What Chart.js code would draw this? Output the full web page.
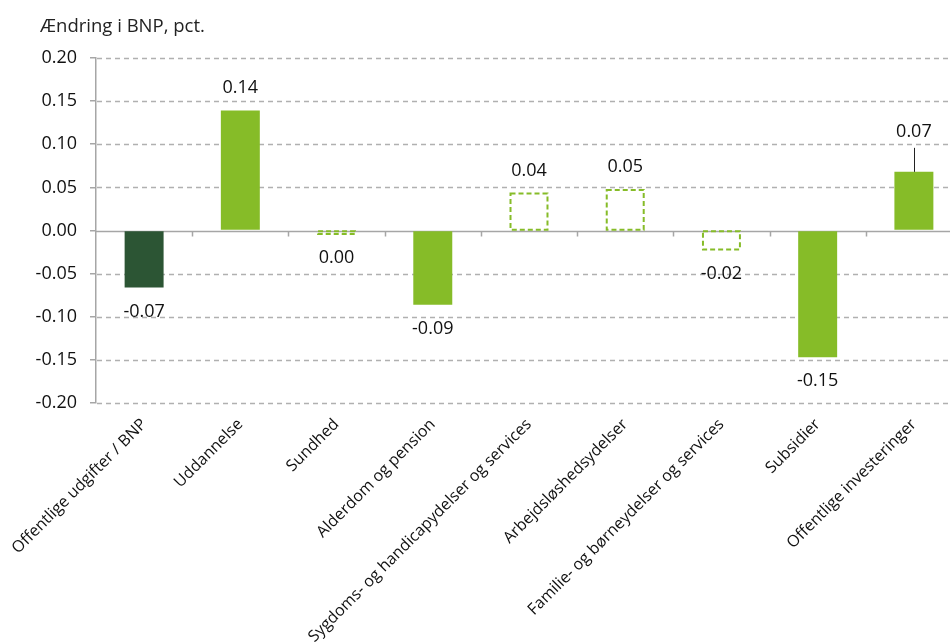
<!DOCTYPE html>
<html>
<head>
<meta charset="utf-8">
<script src="https://cdn.jsdelivr.net/npm/chart.js@4"></script>
<style>
html, body { margin: 0; padding: 0; background: #fff; overflow: hidden; }
canvas { display: block; }
</style>
</head>
<body>
<canvas id="chart" width="962" height="642"></canvas>
<script>
const categories = [
    'Offentlige udgifter / BNP',
    'Uddannelse',
    'Sundhed',
    'Alderdom og pension',
    'Sygdoms- og handicapydelser og services',
    'Arbejdsløshedsydelser',
    'Familie- og børneydelser og services',
    'Subsidier',
    'Offentlige investeringer'
];
const values = [-0.066, 0.139, -0.004, -0.086, 0.043, 0.047, -0.022, -0.147, 0.068];
const yMin = -0.20;
const yMax = 0.20;
const yStep = 0.05;
const axisTitle = 'Ændring i BNP, pct.';

// bars drawn as dashed outlines, and the one whose label sits on a leader line
const dashedBars = [2, 4, 5, 6];
const leaderBar = 8;

const darkGreen = '#2c5534';
const lightGreen = '#86bc28';
const gridGrey = '#b0b0b0';
const fontFamily = '"Open Sans", sans-serif';

function fmt(v) {
    const s = v.toFixed(2);
    return s === '-0.00' ? '0.00' : s;
}

const titlePlugin = {
    id: 'axisTitle',
    afterDraw(chart) {
        const ctx = chart.ctx;
        ctx.save();
        ctx.font = '18.5px ' + fontFamily;
        ctx.fillStyle = '#222';
        ctx.textBaseline = 'middle';
        ctx.fillText(axisTitle, 40, 27);
        ctx.restore();
    }
};

// dashed value gridlines plus the solid zero line with category ticks
const gridPlugin = {
    id: 'gridLines',
    beforeDatasetsDraw(chart) {
        const { ctx, chartArea, scales: { x, y } } = chart;
        ctx.save();
        ctx.strokeStyle = gridGrey;
        ctx.lineWidth = 1.5;
        ctx.setLineDash([5, 4]);
        y.ticks.forEach(t => {
            if (Math.abs(t.value) < 1e-9) return;
            const py = Math.round(y.getPixelForValue(t.value)) + 0.5;
            ctx.beginPath();
            ctx.moveTo(chartArea.left + 1, py);
            ctx.lineTo(chart.width, py);
            ctx.stroke();
        });
        ctx.setLineDash([]);

        const y0 = Math.round(y.getPixelForValue(0)) + 0.5;
        const half = (x.getPixelForValue(1) - x.getPixelForValue(0)) / 2;
        ctx.strokeStyle = '#a6a6a6';
        ctx.beginPath();
        ctx.moveTo(chartArea.left, y0);
        ctx.lineTo(chart.width, y0);
        for (let i = 1; i < categories.length; i++) {
            const px = Math.round(x.getPixelForValue(i) - half) + 0.5;
            ctx.moveTo(px, y0);
            ctx.lineTo(px, y0 + 5);
        }
        ctx.stroke();
        ctx.restore();
    }
};

const barExtras = {
    id: 'barExtras',
    afterDatasetsDraw(chart) {
        const ctx = chart.ctx;
        const meta = chart.getDatasetMeta(0);
        ctx.save();
        meta.data.forEach((bar, i) => {
            const { x, y, base, width } = bar.getProps(['x', 'y', 'base', 'width'], true);
            if (dashedBars.includes(i)) {
                ctx.setLineDash([5, 3]);
                ctx.lineWidth = 2;
                ctx.strokeStyle = lightGreen;
                ctx.strokeRect(x - width / 2 + 1, Math.min(y, base), width - 2, Math.abs(base - y));
                ctx.setLineDash([]);
            }
            const v = values[i];
            let ly;
            if (i === leaderBar) {
                ly = y - 40;
                ctx.strokeStyle = '#222';
                ctx.lineWidth = 1;
                ctx.beginPath();
                ctx.moveTo(Math.round(x) + 0.5, y);
                ctx.lineTo(Math.round(x) + 0.5, y - 24);
                ctx.stroke();
            } else if (v >= 0) {
                ly = y - 23;
            } else {
                ly = Math.max(y, base) + 24;
            }
            ctx.font = '18px ' + fontFamily;
            ctx.fillStyle = '#111';
            ctx.textAlign = 'center';
            ctx.textBaseline = 'middle';
            ctx.fillText(fmt(v), x, ly);
        });
        ctx.restore();
    }
};

new Chart(document.getElementById('chart'), {
    type: 'bar',
    data: {
        labels: categories,
        datasets: [{
            data: values,
            backgroundColor: values.map((v, i) =>
                i === 0 ? darkGreen : dashedBars.includes(i) ? 'rgba(0,0,0,0)' : lightGreen),
            borderWidth: 0,
            barPercentage: 0.405,
            categoryPercentage: 1
        }]
    },
    options: {
        responsive: false,
        animation: false,
        layout: { padding: { top: 58, right: 0, left: 0, bottom: 0 } },
        plugins: {
            legend: { display: false },
            tooltip: { enabled: false }
        },
        scales: {
            x: {
                afterFit(scale) { scale.height = 239; },
                grid: { display: false },
                border: { display: false },
                ticks: {
                    autoSkip: false,
                    minRotation: 45,
                    maxRotation: 45,
                    padding: 4,
                    color: '#111',
                    font: { family: fontFamily, size: 16 }
                }
            },
            y: {
                min: yMin,
                max: yMax,
                afterFit(scale) { scale.width = 96; },
                grid: {
                    drawOnChartArea: false,
                    tickColor: '#a6a6a6',
                    tickLength: 6,
                    lineWidth: 1.5
                },
                border: { display: true, color: '#a6a6a6', width: 1.5 },
                ticks: {
                    stepSize: yStep,
                    padding: 13,
                    color: '#111',
                    font: { family: fontFamily, size: 18 },
                    callback: v => v.toFixed(2)
                }
            }
        }
    },
    plugins: [titlePlugin, gridPlugin, barExtras]
});
</script>
</body>
</html>
